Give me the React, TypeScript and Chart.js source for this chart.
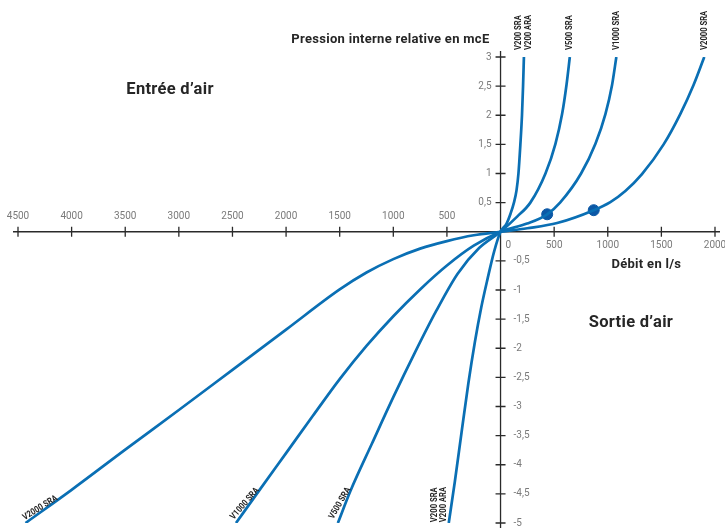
import { useEffect, useRef } from "react";
import { Chart, registerables } from "chart.js";

Chart.register(...registerables);

// ---- Data (flow in l/s, pressure in mcE) ----
const xTickValues = [-4500, -4000, -3500, -3000, -2500, -2000, -1500, -1000, -500, 500, 1000, 1500, 2000];
const yTickValues = [-5, -4.5, -4, -3.5, -3, -2.5, -2, -1.5, -1, -0.5, 0.5, 1, 1.5, 2, 2.5, 3];

const v200Flow = [-483, -427, -364, -300, -240, -180, -120, -60, 0, 56, 93, 125, 149, 167, 185, 200, 210, 218];
const v200Press = [-5.0, -4.3, -3.45, -2.6, -1.9, -1.3, -0.8, -0.34, 0, 0.14, 0.31, 0.5, 0.71, 1.0, 1.5, 2.0, 2.5, 3.0];

const v500Flow = [-1517, -1400, -1200, -1000, -800, -600, -400, -200, 0, 155, 278, 419, 512, 574, 615, 646];
const v500Press = [-5.0, -4.45, -3.64, -2.84, -2.08, -1.36, -0.72, -0.28, 0, 0.26, 0.5, 1.0, 1.51, 2.02, 2.52, 3.0];

const v1000Flow = [-2467, -2250, -2000, -1750, -1500, -1250, -1000, -750, -500, -250, 0, 248, 435, 555, 751, 885, 978, 1040, 1080];
const v1000Press = [-5.0, -4.44, -3.8, -3.16, -2.53, -1.96, -1.45, -0.99, -0.58, -0.24, 0, 0.14, 0.3, 0.5, 1.0, 1.51, 2.02, 2.52, 3.0];

const v2000Flow = [-4430, -4000, -3500, -3000, -2500, -2000, -1500, -1250, -1000, -750, -500, -250, 0, 250, 528, 869, 1024, 1164, 1319, 1521, 1676, 1800, 1900];
const v2000Press = [-5.0, -4.43, -3.74, -3.06, -2.37, -1.68, -0.99, -0.7, -0.47, -0.29, -0.16, -0.06, 0, 0.06, 0.15, 0.37, 0.51, 0.7, 0.99, 1.5, 2.02, 2.52, 3.0];

const markerFlow = [435, 869];
const markerPress = [0.3, 0.37];

const seriesNames = [["V200 SRA", "V200 ARA"], ["V500 SRA"], ["V1000 SRA"], ["V2000 SRA"]];
const bottomLabelAngles = [-90, -60, -49, -32];
const bottomLabelGap = [4.5, 8, 6, 5];

const yAxisTitle = "Pression interne relative en mcE";
const xAxisTitle = "Débit en l/s";
const inletText = "Entrée d’air";
const outletText = "Sortie d’air";

const LINE_COLOR = "#0a6fb4";
const DOT_COLOR = "#0b58a6";
const AXIS_COLOR = "#2a2a2a";
const TICK_TEXT = "#7a7a7a";
const TITLE_TEXT = "#262626";
const NUM_FONT = "10px Roboto, 'DejaVu Sans', sans-serif";
const LABEL_FONT = "bold 9px Roboto, 'DejaVu Sans', sans-serif";

function zip(xs: number[], ys: number[]) {
  return xs.map((x, i) => ({ x, y: ys[i] }));
}

function fmt(v: number) {
  return String(Math.abs(v)).replace(".", ",");
}

function fmtY(v: number) {
  return String(v).replace(".", ",");
}

const centerAxesPlugin = {
  id: "centerAxes",
  beforeDatasetsDraw(chart: any) {
    const { ctx, chartArea, scales } = chart;
    const xs = scales.x;
    const ys = scales.y;
    const ox = xs.getPixelForValue(0);
    const oy = ys.getPixelForValue(0);
    ctx.save();
    ctx.strokeStyle = AXIS_COLOR;
    ctx.lineWidth = 1.3;
    ctx.beginPath();
    ctx.moveTo(chartArea.left - 5, oy);
    ctx.lineTo(chartArea.right + 5, oy);
    ctx.moveTo(ox, chartArea.top - 6);
    ctx.lineTo(ox, chartArea.bottom + 5);
    for (const v of xTickValues) {
      const px = xs.getPixelForValue(v);
      ctx.moveTo(px, oy - 5);
      ctx.lineTo(px, oy + 5);
    }
    for (const v of yTickValues) {
      const py = ys.getPixelForValue(v);
      ctx.moveTo(ox - 5, py);
      ctx.lineTo(ox + 5, py);
    }
    ctx.stroke();

    ctx.fillStyle = TICK_TEXT;
    ctx.font = NUM_FONT;
    ctx.textBaseline = "middle";
    ctx.textAlign = "center";
    for (const v of xTickValues) {
      const px = xs.getPixelForValue(v);
      if (v < 0) ctx.fillText(fmt(v), px, oy - 15);
      else ctx.fillText(fmt(v), px, oy + 14);
    }
    ctx.textAlign = "left";
    ctx.fillText("0", ox + 5, oy + 14);
    for (const v of yTickValues) {
      const py = ys.getPixelForValue(v);
      if (v > 0) {
        ctx.textAlign = "right";
        ctx.fillText(fmtY(v), ox - 9, py);
      } else {
        ctx.textAlign = "left";
        ctx.fillText(fmtY(v), ox + 13, py);
      }
    }
    ctx.restore();
  },
  afterDatasetsDraw(chart: any) {
    const { ctx, scales } = chart;
    const xs = scales.x;
    const ys = scales.y;
    const ox = xs.getPixelForValue(0);
    const oy = ys.getPixelForValue(0);
    ctx.save();
    ctx.fillStyle = TITLE_TEXT;
    ctx.font = "bold 13px Roboto, 'DejaVu Sans', sans-serif";
    (ctx as any).letterSpacing = "0.3px";
    ctx.textBaseline = "middle";
    ctx.textAlign = "right";
    ctx.fillText(yAxisTitle, ox - 11, 40);
    ctx.textAlign = "center";
    ctx.fillText(xAxisTitle, xs.getPixelForValue(1360), oy + 33);
    ctx.font = "bold 16.5px Roboto, 'DejaVu Sans', sans-serif";
    ctx.textAlign = "left";
    ctx.fillText(inletText, xs.getPixelForValue(-3490), ys.getPixelForValue(2.43));
    ctx.fillText(outletText, xs.getPixelForValue(823), ys.getPixelForValue(-1.56));
    (ctx as any).letterSpacing = "0px";

    ctx.font = LABEL_FONT;
    ctx.fillStyle = TITLE_TEXT;
    for (let i = 0; i < 4; i++) {
      const pts = chart.getDatasetMeta(i).data;
      const top = pts[pts.length - 1];
      const bot = pts[0];
      const lines = seriesNames[i];
      const n = lines.length;
      // top labels (vertical)
      ctx.save();
      ctx.translate(top.x, top.y - 7);
      ctx.rotate(-Math.PI / 2);
      ctx.scale(0.85, 1);
      ctx.textAlign = "left";
      ctx.textBaseline = "middle";
      lines.forEach((t, j) => {
        ctx.fillText(t, 0, (j - (n - 1) / 2) * 9.5);
      });
      ctx.restore();
      // bottom labels (along curve)
      ctx.save();
      ctx.translate(bot.x, bot.y);
      ctx.rotate((bottomLabelAngles[i] * Math.PI) / 180);
      ctx.scale(0.85, 1);
      ctx.textAlign = "left";
      ctx.textBaseline = "middle";
      lines.forEach((t, j) => {
        ctx.fillText(t, 1, -bottomLabelGap[i] - (n - 1 - j) * 9.5);
      });
      ctx.restore();
    }
    ctx.restore();
  },
};

export default function App() {
  const canvasRef = useRef<HTMLCanvasElement | null>(null);

  useEffect(() => {
    if (!canvasRef.current) return;
    const lineDs = (label: string, xs: number[], ys: number[]) => ({
      label,
      data: zip(xs, ys),
      borderColor: LINE_COLOR,
      backgroundColor: LINE_COLOR,
      borderWidth: 2.7,
      pointRadius: 0,
      showLine: true,
      fill: false,
      cubicInterpolationMode: "monotone" as const,
    });
    const chart = new Chart(canvasRef.current, {
      type: "scatter",
      data: {
        datasets: [
          lineDs("V200", v200Flow, v200Press),
          lineDs("V500", v500Flow, v500Press),
          lineDs("V1000", v1000Flow, v1000Press),
          lineDs("V2000", v2000Flow, v2000Press),
          {
            label: "points",
            data: zip(markerFlow, markerPress),
            backgroundColor: DOT_COLOR,
            borderColor: DOT_COLOR,
            pointRadius: 5.5,
            showLine: false,
          } as any,
        ],
      },
      options: {
        animation: false,
        responsive: true,
        maintainAspectRatio: false,
        layout: { padding: { left: 18, right: 10, top: 57, bottom: 7 } },
        plugins: { legend: { display: false }, tooltip: { enabled: false } },
        scales: {
          x: { type: "linear", min: -4500, max: 2000, display: false },
          y: { type: "linear", min: -5, max: 3, display: false },
        },
      },
      plugins: [centerAxesPlugin],
    });
    return () => chart.destroy();
  }, []);

  return (
    <div style={{ position: "fixed", left: 0, top: 0, width: 725, height: 530, background: "#fff" }}>
      <canvas ref={canvasRef} />
    </div>
  );
}
